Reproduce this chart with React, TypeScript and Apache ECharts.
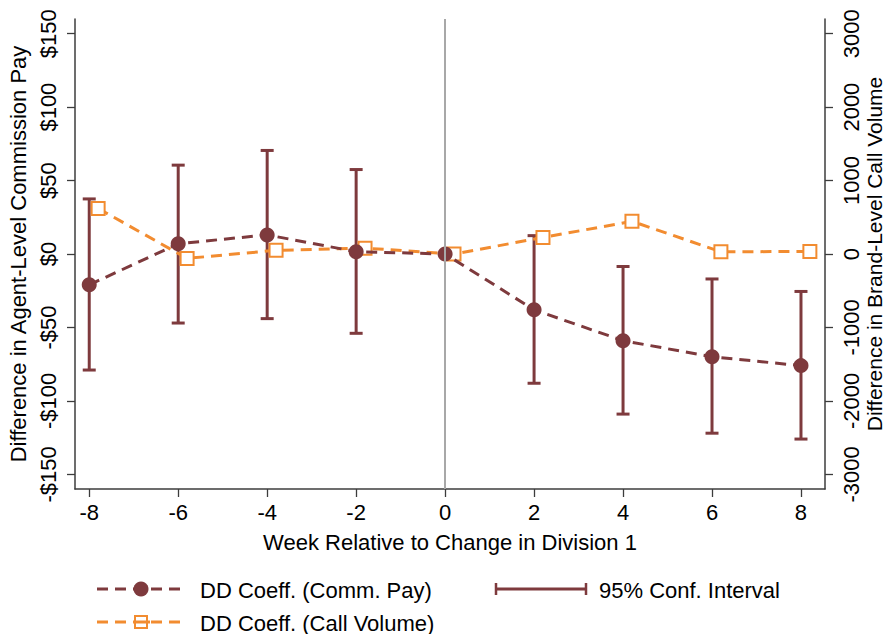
import * as React from "react";
import * as echarts from "echarts";

const weeks = [-8, -6, -4, -2, 0, 2, 4, 6, 8];
const commPay = [-21, 7, 13, 1.6, 0, -38, -59, -70, -76];
const ciLow = [-79, -47, -44, -54, null, -88, -109, -122, -126];
const ciHigh = [37.5, 60.5, 70.5, 57.5, null, 12.5, -8.5, -17, -25.5];
const callVolume = [620, -60, 50, 80, 0, 225, 445, 30, 35];
const callOffset = 0.2;

const xTicks = [-8, -6, -4, -2, 0, 2, 4, 6, 8];
const leftTicks = [-150, -100, -50, 0, 50, 100, 150];
const rightTicks = [-3000, -2000, -1000, 0, 1000, 2000, 3000];

const RED = "#7e3a3d";
const ORANGE = "#f28c30";
const AXIS = "#3c3c3c";
const FONT = "'Liberation Sans', Arial, Helvetica, sans-serif";
const FS = 22;

export default function App() {
  const ref = React.useRef<HTMLDivElement | null>(null);

  React.useEffect(() => {
    if (!ref.current) return;
    const chart = echarts.init(ref.current, null, { renderer: "svg" });

    const axisCommon = {
      axisLine: { show: true, onZero: false, lineStyle: { color: AXIS, width: 1.5 } },
      axisTick: { show: true, length: 8, lineStyle: { color: AXIS, width: 1.3 } },
      splitLine: { show: false },
      nameTextStyle: { fontFamily: FONT, fontSize: FS, color: "#000" },
    };
    const labelCommon = { fontFamily: FONT, fontSize: FS, color: "#000" };

    const ciData = weeks
      .map((w, i) => [w, ciLow[i], ciHigh[i]])
      .filter((d) => d[1] != null);

    const legendText = (x: number, y: number, text: string) => ({
      type: "text",
      x,
      y,
      style: { text, font: `${FS}px ${FONT}`, fill: "#000", verticalAlign: "middle" },
    });

    const option: any = {
      animation: false,
      backgroundColor: "#fff",
      textStyle: { fontFamily: FONT },
      grid: {
        left: 75,
        right: 61,
        top: 19,
        bottom: 145,
        containLabel: false,
        outerBoundsMode: "none",
      },
      xAxis: {
        type: "value",
        min: -8.32,
        max: 8.54,
        ...axisCommon,
        axisTick: { ...axisCommon.axisTick, customValues: xTicks },
        axisLabel: { ...labelCommon, customValues: xTicks, margin: 12 },
        name: "Week Relative to Change in Division 1",
        nameLocation: "middle",
        nameGap: 42,
      },
      yAxis: [
        {
          type: "value",
          position: "left",
          min: -160,
          max: 160,
          ...axisCommon,
          axisTick: { ...axisCommon.axisTick, customValues: leftTicks },
          axisLabel: {
            ...labelCommon,
            customValues: leftTicks,
            rotate: 90,
            margin: 16,
            formatter: (v: number) => (v < 0 ? "-$" + Math.abs(v) : "$" + v),
          },
          name: "Difference in Agent-Level Commission Pay",
          nameLocation: "middle",
          nameRotate: 90,
          nameGap: 42,
        },
        {
          type: "value",
          position: "right",
          min: -3200,
          max: 3200,
          ...axisCommon,
          axisTick: { ...axisCommon.axisTick, customValues: rightTicks },
          axisLabel: {
            ...labelCommon,
            customValues: rightTicks,
            rotate: 90,
            margin: 15,
            formatter: (v: number) => String(v),
          },
        },
      ],
      series: [
        {
          type: "custom",
          name: "95% Conf. Interval",
          z: 2,
          data: ciData,
          renderItem: (params: any, api: any) => {
            const x = api.value(0);
            const lo = api.coord([x, api.value(1)]);
            const hi = api.coord([x, api.value(2)]);
            const half = 6.5;
            const style = { stroke: RED, lineWidth: 3 };
            return {
              type: "group",
              children: [
                { type: "line", shape: { x1: lo[0], y1: lo[1], x2: hi[0], y2: hi[1] }, style },
                { type: "line", shape: { x1: lo[0] - half, y1: lo[1], x2: lo[0] + half, y2: lo[1] }, style },
                { type: "line", shape: { x1: hi[0] - half, y1: hi[1], x2: hi[0] + half, y2: hi[1] }, style },
              ],
            };
          },
          markLine: {
            silent: true,
            symbol: "none",
            label: { show: false },
            lineStyle: { color: "#a8a8a8", width: 2, type: "solid" },
            data: [{ xAxis: 0 }],
          },
        },
        {
          type: "line",
          name: "DD Coeff. (Comm. Pay)",
          z: 4,
          data: weeks.map((w, i) => [w, commPay[i]]),
          symbol: "circle",
          symbolSize: 15,
          itemStyle: { color: RED },
          lineStyle: { color: RED, width: 3, type: [11, 7] },
        },
        {
          type: "line",
          name: "DD Coeff. (Call Volume)",
          yAxisIndex: 1,
          z: 3,
          data: weeks.map((w, i) => [w + callOffset, callVolume[i]]),
          symbol: "rect",
          symbolSize: 13,
          itemStyle: { color: "#fff", borderColor: ORANGE, borderWidth: 2 },
          lineStyle: { color: ORANGE, width: 3, type: [11, 7] },
        },
      ],
      graphic: [
        // right axis title
        {
          type: "text",
          x: 874,
          y: 254,
          rotation: Math.PI / 2,
          style: {
            text: "Difference in Brand-Level Call Volume",
            font: `21px ${FONT}`,
            fill: "#000",
            align: "center",
            verticalAlign: "middle",
          },
        },
        {
          type: "line",
          shape: { x1: 97, y1: 589, x2: 185, y2: 589 },
          style: { stroke: RED, lineWidth: 3, lineDash: [11, 7] },
        },
        { type: "circle", shape: { cx: 141, cy: 589, r: 7.5 }, style: { fill: RED } },
        legendText(200, 590, "DD Coeff. (Comm. Pay)"),
        {
          type: "line",
          shape: { x1: 97, y1: 622, x2: 185, y2: 622 },
          style: { stroke: ORANGE, lineWidth: 3, lineDash: [11, 7] },
        },
        {
          type: "rect",
          shape: { x: 135, y: 616, width: 12, height: 12 },
          style: { fill: "#fff", stroke: ORANGE, lineWidth: 2 },
        },
        {
          type: "line",
          shape: { x1: 135, y1: 622, x2: 150, y2: 622 },
          style: { stroke: ORANGE, lineWidth: 3 },
        },
        legendText(200, 623, "DD Coeff. (Call Volume)"),
        {
          type: "line",
          shape: { x1: 496, y1: 589, x2: 586, y2: 589 },
          style: { stroke: RED, lineWidth: 3 },
        },
        {
          type: "line",
          shape: { x1: 496, y1: 583, x2: 496, y2: 595 },
          style: { stroke: RED, lineWidth: 2.5 },
        },
        {
          type: "line",
          shape: { x1: 586, y1: 583, x2: 586, y2: 595 },
          style: { stroke: RED, lineWidth: 2.5 },
        },
        legendText(599, 590, "95% Conf. Interval"),
      ],
    };

    chart.setOption(option);
    return () => chart.dispose();
  }, []);

  return (
    <div
      ref={ref}
      style={{ width: 886, height: 634, position: "absolute", left: 0, top: 0 }}
    />
  );
}
